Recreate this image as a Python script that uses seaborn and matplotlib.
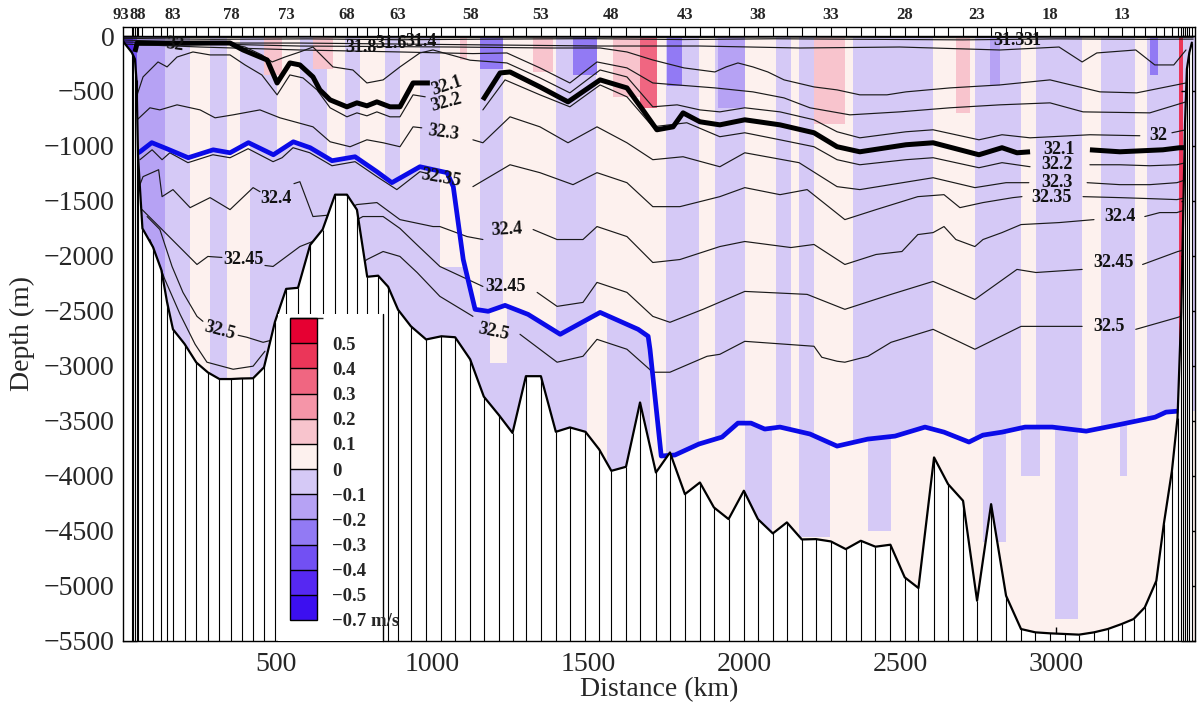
import numpy as np
import pandas as pd
import matplotlib
matplotlib.use("Agg")
import matplotlib.pyplot as plt
import seaborn as sns
from matplotlib.colors import ListedColormap, BoundaryNorm
from matplotlib.cm import ScalarMappable
from matplotlib.patches import Rectangle
from matplotlib.lines import Line2D

nan = np.nan

# ---------------- stations and bathymetry ----------------
station_id = list(range(93, 0, -1))
station_km = [0, 36, 41, 46, 51, 56, 70, 104, 131, 149, 168, 205, 243, 280, 317, 354, 389, 425, 460, 495,
              531, 569, 608, 648, 688, 726, 758, 791, 826, 858, 890, 931, 980, 1029, 1073, 1121, 1165, 1214,
              1257, 1300, 1348, 1396, 1441, 1491, 1535, 1574, 1621, 1666, 1717, 1762, 1810, 1858, 1903, 1950,
              1999, 2044, 2092, 2137, 2185, 2230, 2278, 2326, 2374, 2421, 2469, 2515, 2559, 2609, 2654, 2702,
              2747, 2792, 2840, 2888, 2934, 2981, 3029, 3074, 3122, 3166, 3211, 3249, 3285, 3322, 3346, 3372,
              3390, 3402, 3409, 3414, 3420, 3428, 3436]
bottom_depth = [-20, -150, -180, -210, -400, -1100, -1750, -1920, -2130, -2420, -2668, -2800, -2970, -3060,
                -3120, -3120, -3115, -3113, -3013, -2600, -2300, -2290, -1900, -1760, -1443, -1443, -1580, -2190,
                -2180, -2280, -2490, -2640, -2760, -2731, -2740, -2940, -3280, -3450, -3610, -3094, -3094, -3600,
                -3560, -3600, -3760, -3955, -3918, -3333, -3970, -3788, -4167, -4061, -4288, -4394, -4136, -4394,
                -4524, -4424, -4579, -4576, -4597, -4667, -4591, -4645, -4627, -4924, -5021, -3833, -4076, -4227,
                -5136, -4258, -5091, -5394, -5424, -5433, -5439, -5445, -5424, -5394, -5348, -5303, -5197, -4955,
                -4439, -3955, -3470, -2500, -1500, -800, -300, -150, -60]

# ---------------- blue line ----------------
blue_km = [56, 62, 100, 148, 217, 297, 351, 410, 490, 554, 608, 678, 752, 822, 870, 960, 1047, 1067, 1099, 1137,
           1179, 1233, 1307, 1410, 1538, 1660, 1692, 1698, 1734, 1778, 1855, 1929, 1980, 2022, 2066, 2115, 2211,
           2298, 2397, 2484, 2580, 2641, 2721, 2766, 2827, 2901, 2988, 3097, 3195, 3318, 3353, 3391]
blue_depth = [-1062, -1053, -970, -1025, -1107, -1035, -1062, -970, -1080, -962, -1016, -1134, -1098, -1234, -1334,
              -1189, -1243, -1370, -2033, -2486, -2504, -2450, -2532, -2713, -2514, -2668, -2731, -2850, -3820,
              -3811, -3711, -3648, -3521, -3521, -3575, -3557, -3620, -3730, -3666, -3639, -3557, -3603, -3693,
              -3630, -3603, -3557, -3557, -3594, -3539, -3467, -3421, -3412]

# ---------------- isolines (km, depth) ----------------
iso321_km = [46, 53, 94, 351, 393, 470, 502, 543, 575, 617, 639, 672, 726, 758, 790, 822, 864, 896, 938, 992, nan,
             1162, 1217, 1249, 1345, 1435, 1538, 1624, 1675, 1720, 1772, 1804, 1858, 1922, 2002, 2115, 2224, 2298,
             2371, 2519, 2606, 2753, 2827, 2875, 2917, nan, 3109, 3205, 3343, 3397, 3417]
iso321_d = [-145, -64, -64, -64, -127, -218, -427, -245, -263, -372, -490, -581, -644, -608, -635, -599, -644, -644,
            -427, -427, nan, -581, -336, -327, -463, -599, -399, -472, -672, -853, -826, -699, -780, -808, -762,
            -808, -880, -1007, -1053, -989, -971, -1080, -1016, -1062, -1053, nan, -1035, -1053, -1035, -1016, -1016]

iso322_km = [53, 72, 120, 149, 181, 232, 287, 351, 399, 453, 502, 543, 585, 630, 672, 726, 758, 790, 822, 864, 896,
             938, 977, nan, 1162, 1233, 1345, 1441, 1538, 1624, 1707, 1816, 1922, 2002, 2115, 2224, 2298, 2371,
             2519, 2606, 2753, 2827, 2917, nan, 3109, 3205, 3301, 3388, 3417]
iso322_d = [-535, -372, -236, -281, -191, -145, -172, -172, -263, -354, -535, -354, -381, -490, -653, -735, -699,
            -726, -690, -735, -735, -535, -553, nan, -672, -399, -535, -644, -445, -553, -826, -789, -916, -880,
            -944, -1007, -1125, -1171, -1125, -1107, -1198, -1152, -1189, nan, -1171, -1171, -1180, -1171, -1152]

iso323_km = [53, 94, 126, 181, 255, 303, 361, 447, 511, 617, 672, 736, 790, 842, 896, 938, 966, nan, 1130, 1162,
             1249, 1345, 1435, 1528, 1624, 1707, 1804, 1922, 2002, 2176, 2298, 2371, 2606, 2740, 2840, 2913, nan,
             3100, 3205, 3301, 3388, 3417]
iso323_d = [-762, -653, -672, -626, -672, -744, -717, -672, -744, -826, -962, -1007, -944, -971, -1007, -826, -835,
            nan, -944, -971, -735, -826, -971, -826, -971, -1125, -1098, -1189, -1062, -1152, -1370, -1397, -1289,
            -1379, -1334, -1334, nan, -1334, -1352, -1352, -1334, -1307]

iso3235_km = [62, 101, 133, 158, 216, 296, 351, 409, 489, 518, 553, 607, 678, 752, 822, 886, 960, 986, nan, 1130,
              1249, 1345, 1451, 1528, 1624, 1707, 1794, 1922, 2002, 2115, 2202, 2323, 2423, 2557, 2641, 2692, 2766,
              2862, 2891, nan, 3087, 3205, 3301, 3388, 3417]
iso3235_d = [-1125, -1035, -1125, -1062, -1152, -1080, -1107, -1025, -1143, -1107, -1016, -1062, -1180, -1143,
             -1279, -1397, -1234, -1252, nan, -1370, -1171, -1243, -1352, -1243, -1334, -1552, -1552, -1461, -1379,
             -1443, -1397, -1670, -1579, -1461, -1443, -1561, -1515, -1470, -1461, nan, -1461, -1470, -1479, -1488,
             -1470]

iso324_km = [62, 72, 122, 133, 168, 223, 287, 351, 425, 447, nan, 556, 575, 617, 688, 758, 822, 896, 1002, 1024,
             1111, 1162, nan, 1323, 1400, 1483, 1528, 1624, 1707, 1794, 1922, 2002, 2150, 2224, 2323, 2423, 2506,
             2557, 2606, 2641, 2679, 2740, 2766, 2827, 2888, 3010, 3122, nan, 3285, 3333, 3388, 3417]
iso324_d = [-1352, -1279, -1216, -1461, -1397, -1561, -1470, -1579, -1379, -1416, nan, -1343, -1325, -1642, -1624,
            -1533, -1515, -1670, -1733, -1733, -1824, -1851, nan, -1760, -1851, -1851, -1733, -1824, -2060, -2033,
            -1915, -1869, -1924, -1896, -2078, -1987, -1960, -1806, -1788, -1733, -1851, -1915, -1851, -1788,
            -1715, -1697, -1670, nan, -1642, -1606, -1606, -1579]

iso3245_km = [69, 133, 245, 280, 325, nan, 463, 489, 575, 672, 777, 842, 896, 951, 1024, 1162, nan, 1336, 1400,
              1483, 1528, 1624, 1707, 1762, 1868, 2002, 2202, 2323, 2471, 2606, 2740, 2875, 2936, 3084, nan, 3278,
              3391, 3417]
iso3245_d = [-1579, -1760, -2078, -2005, -2014, nan, -2087, -2096, -1915, -1806, -1642, -1642, -1750, -1900, -2096,
             -2278, nan, -2332, -2459, -2423, -2241, -2332, -2550, -2604, -2486, -2323, -2350, -2486, -2350, -2232,
             -2396, -2123, -2151, -2123, nan, -2078, -1960, -1942]

iso325_km = [85, 126, 165, 200, 245, 264, nan, 377, 405, 457, 495, 639, 790, 842, 896, 951, 1024, 1130, nan, 1281,
             1400, 1483, 1528, 1624, 1707, 1762, 1881, 1922, 2002, 2224, 2249, 2298, 2323, 2397, 2471, 2606, 2740,
             2888, 3084, nan, 3256, 3391, 3417]
iso325_d = [-1642, -1760, -2096, -2332, -2550, -2595, nan, -2722, -2740, -2786, -2759, -2396, -2033, -1960, -2005,
            -2151, -2368, -2550, nan, -2713, -2967, -2913, -2759, -2849, -3058, -3058, -2913, -2895, -2777, -2822,
            -2922, -2958, -2967, -2913, -2786, -2668, -2849, -2641, -2641, nan, -2668, -2559, -2532]

iso3255_km = [94, 142, 191, 239, 277, 361, 425, 463]
iso3255_d = [-1851, -2214, -2532, -2804, -2967, -3031, -3003, -2867]

iso32_km = [53, 200, 351, 399, 453, 486, 527, 575, 617, 681, 745, 790, 842, 896, 960, 1002, 1121, 1239, 1345, 1441,
            1538, 1624, 1707, 1785, 1858, 1922, 2002, 2115, 2224, 2298, 2371, 2519, 2606, 2753, 2827, 2917, 3109,
            3269, nan, 3372, 3417]
iso32_d = [-82, -82, -73, -100, -172, -236, -191, -145, -100, -281, -309, -427, -399, -281, -154, -127, -220, -245,
           -381, -517, -309, -372, -644, -626, -672, -690, -653, -690, -762, -871, -926, -871, -853, -944, -898,
           -926, -898, -907, nan, -880, -853]

isoU2_km = [8, 255, 575, 896, 1130, 1239, 1345, 1441, 1528, 1624, 1707, 1785, 1906, 2028, 2128, 2211, 2339, 2499,
            2660, 2820, 2981, 3087, 3301, 3417]
isoU2_d = [-73, -100, -127, -145, -160, -154, -290, -427, -236, -290, -427, -445, -472, -508, -563, -653, -717,
           -690, -653, -626, -608, -690, -699, -599]

isoU1_km = [8, 575, 1063, 1377, 1538, 1624, 1707, 1807, 1906, 1942, 1980, 2028, 2076, 2128, 2224, 2298, 2371, 2458,
            2519, 2660, 2820, 2981, 3141, 3259, 3417]
isoU1_d = [-54, -91, -100, -109, -109, -145, -218, -290, -327, -281, -245, -281, -327, -399, -463, -490, -535, -535,
           -508, -472, -445, -399, -508, -517, -427]

isoU0_km = [8, 255, 575, 896, 1217, 1538, 1858, 2179, 2499, 2820, 2948, 3010, 3084, 3131, 3256, 3317, 3378, 3417]
isoU0_d = [-36, -64, -64, -73, -82, -91, -91, -109, -100, -127, -109, -100, -236, -154, -127, -263, -263, -127]

surf_km = [8, 300, 600, 900, 1200, 1500, 1800, 2100, 2400, 2700, 3000, 3300, 3440]
surf1_d = [-10, -14, -9, -16, -12, -10, -14, -9, -12, -15, -10, -13, -12]
surf2_d = [-22, -30, -26, -34, -28, -24, -32, -25, -30, -35, -26, -30, -28]

# contour label annotations: text, km, depth, rotation
clab_text = ["32", "31.8", "31.6", "31.4", "31.3", "31", "32.1", "32.2", "32.3", "32.35", "32.4", "32.45",
             "32.5", "32.4", "32.45", "32.5", "32.1", "32.2", "32.3", "32.35", "32.4", "32.45", "32.5", "32"]
clab_km = [174, 771, 866, 962, 2850, 2925, 1045, 1045, 1034, 1029, 498, 393, 319, 1240, 1233, 1195, 3010, 3003,
           3003, 2985, 3205, 3183, 3170, 3327]
clab_d = [-82, -100, -64, -54, -45, -45, -455, -610, -880, -1290, -1480, -2030, -2680, -1760, -2278, -2695,
          -1035, -1170, -1334, -1470, -1643, -2060, -2641, -907]
clab_rot = [-8, 0, 0, 0, 0, 0, 18, 15, -8, -10, 0, 0, -15, 3, 0, -12, 0, 0, 0, 0, 0, 0, 0, 0]

# ---------------- velocity field (m/s classes) ----------------
mid_edges = [7.7, 53, 143, 223, 287, 342, 383, 502, 575, 662, 720, 768, 848, 896, 960, 1024, 1153, 1226, 1397, 1525,
             1750, 1855, 1906, 2002, 2102, 2150, 2176, 2224, 2349, 2606, 2740, 2888, 2936, 3084, 3144, 3256, 3292,
             3397, 3410, 3446]
mid_vals = [-0.25, -0.15, -0.05, 0.05, -0.05, 0.05, -0.05, 0.05, -0.05, 0.05, -0.05, 0.05, -0.05, 0.05, -0.05, 0.05,
            -0.05, 0.05, -0.05, 0.05, -0.05, 0.05, -0.05, 0.05, -0.05, 0.05, -0.05, 0.05, -0.05, 0.05, -0.05, 0.05,
            -0.05, 0.05, -0.05, 0.05, -0.05, 0.35, -0.05]

deep_edges = [7.7, 53, 143, 223, 287, 342, 415, 1024, 1130, 1185, 1240, 1496, 1560, 1700, 2002, 2090, 2176, 2275,
              2397, 2471, 2766, 2840, 2888, 2950, 2997, 3071, 3205, 3230, 3446]
deep_top_val = [-0.25, -0.15, -0.05, 0.05, -0.05, 0.05, -0.05, 0.05, -0.05, 0.05, -0.05, 0.05, -0.05, 0.05, -0.05,
                0.05, -0.05, 0.05, -0.05, 0.05, -0.05, 0.05, -0.05, 0.05, -0.05, 0.05, -0.05, 0.05]
deep_until = [-5500, -5500, -5500, -5500, -5500, -5500, -5500, -2100, -5500, -2970, -5500, -5500, -5500, -5500,
              -4550, -5500, -4550, -5500, -4500, -5500, -4600, -5500, -4000, -5500, -5300, -5500, -4000, -5500]
deep_low_val = [-0.25, -0.15, -0.05, 0.05, -0.05, 0.05, -0.05, -0.05, -0.05, -0.05, -0.05, 0.05, -0.05, 0.05, 0.05,
                0.05, 0.05, 0.05, 0.05, 0.05, 0.05, 0.05, 0.05, 0.05, 0.05, 0.05, 0.05, 0.05]

surf_km0 = [7.7, 40, 460, 618, 1088, 1153, 1323, 1451, 1579, 1666, 1752, 1916, 2224, 2680, 2788, 3302, 3397]
surf_km1 = [40, 53, 517, 682, 1111, 1226, 1387, 1528, 1666, 1720, 1800, 2003, 2323, 2724, 2820, 3327, 3410]
surf_val = [-0.45, -0.35, 0.15, 0.15, 0.15, -0.25, 0.15, -0.25, 0.15, 0.35, -0.25, -0.15, 0.15, 0.15, -0.15,
            -0.25, 0.45]
surf_depth = [-250, -1500, -350, -300, -220, -300, -330, -350, -550, -650, -450, -650, -800, -700, -450, -350,
              -3000]

levels = [-0.7, -0.5, -0.4, -0.3, -0.2, -0.1, 0.0, 0.1, 0.2, 0.3, 0.4, 0.5, 0.6]
level_colors = ["#3c0ff0", "#5628f2", "#7250f3", "#927af4", "#b6a2f4", "#d5c9f6",
                "#fdf1ee", "#f8c4cd", "#f595a8", "#f06681", "#eb3659", "#e60032"]
cbar_labels = ["\u22120.7 m/s", "\u22120.5", "\u22120.4", "\u22120.3", "\u22120.2", "\u22120.1", "0",
               "0.1", "0.2", "0.3", "0.4", "0.5"]

# ---------------- figure ----------------
sns.set_theme(style="ticks")
plt.rcParams["font.family"] = ["Liberation Serif", "DejaVu Serif"]
plt.rcParams["axes.unicode_minus"] = True

W, H = 1200, 705
fig = plt.figure(figsize=(12, 7.05), dpi=100)
L, R, T, B = 123, 1195, 27, 640.7
ax = fig.add_axes([L / W, 1 - B / H, (R - L) / W, (B - T) / H])
XMIN, XMAX, YMIN, YMAX = 7.7, 3446, -5500, 82

cmap = ListedColormap(level_colors)
norm = BoundaryNorm(levels, cmap.N)

xs = np.arange(XMIN, XMAX, 1.0) + 0.5
zs = np.arange(YMIN, 0, 5.0) + 2.5
X, Z = np.meshgrid(xs, zs)
mi = np.clip(np.searchsorted(mid_edges, xs, side="right") - 1, 0, len(mid_vals) - 1)
di = np.clip(np.searchsorted(deep_edges, xs, side="right") - 1, 0, len(deep_top_val) - 1)
mid = np.array(mid_vals)[mi][None, :]
dtop = np.array(deep_top_val)[di][None, :]
dlow = np.array(deep_low_val)[di][None, :]
dun = np.array(deep_until, dtype=float)[di][None, :]
bz = np.interp(xs, blue_km, blue_depth)[None, :]
V = np.where(Z > bz, mid, np.where(Z > dun, dtop, dlow))
for k0, k1, v, d in zip(surf_km0, surf_km1, surf_val, surf_depth):
    V[(X >= k0) & (X < k1) & (Z > d)] = v
ax.imshow(V, extent=[XMIN, XMAX, YMIN, 0], origin="lower", aspect="auto", cmap=cmap, norm=norm,
          interpolation="nearest", zorder=0)

# isolines
thin = dict(color="#1a1a1a", lw=0.85, zorder=2)
for kx, dy in [(surf_km, surf1_d), (surf_km, surf2_d), (isoU0_km, isoU0_d), (isoU1_km, isoU1_d),
               (isoU2_km, isoU2_d), (iso32_km, iso32_d), (iso322_km, iso322_d), (iso323_km, iso323_d),
               (iso3235_km, iso3235_d), (iso324_km, iso324_d), (iso3245_km, iso3245_d), (iso325_km, iso325_d),
               (iso3255_km, iso3255_d)]:
    ax.plot(kx, dy, **thin)
ax.plot(iso321_km, iso321_d, color="black", lw=3.6, solid_capstyle="butt", zorder=3)

sns.lineplot(x=blue_km, y=blue_depth, sort=False, estimator=None, color="#0b0be8", lw=3.4, ax=ax, zorder=3)

# bathymetry
ax.fill_between(station_km, bottom_depth, YMIN, color="white", lw=0, zorder=4)
ax.vlines(station_km, YMIN, bottom_depth, color="black", lw=0.8, zorder=5)
sns.lineplot(x=station_km, y=bottom_depth, sort=False, estimator=None, color="black", lw=1.6, ax=ax, zorder=6)

# top station band
ax.vlines(station_km, 0, YMAX, color="black", lw=0.8, zorder=5)
ax.axhline(0, color="black", lw=1.0, zorder=5)

for t, k, d, r in zip(clab_text, clab_km, clab_d, clab_rot):
    ax.text(k, d, t, fontsize=13, fontweight="bold", rotation=r, ha="center", va="center", zorder=7,
            color="#111111")

for sid, k in zip(station_id, station_km):
    if sid % 5 == 3 and sid >= 13:
        ax.annotate(str(sid), xy=(k, 1.0), xycoords=("data", "axes fraction"), xytext=(0, 3),
                    textcoords="offset points", ha="center", va="bottom", fontsize=12, fontweight="bold",
                    annotation_clip=False)

ax.set_xlim(XMIN, XMAX)
ax.set_ylim(YMIN, YMAX)
ax.set_xticks([500, 1000, 1500, 2000, 2500, 3000])
ax.set_yticks(np.arange(-5500, 1, 500))
ax.tick_params(axis="both", direction="in", labelsize=20, length=10, width=1, color="black")
ax.tick_params(axis="y", right=True, pad=6)
ax.tick_params(axis="x", top=False, pad=8)
for s in ax.spines.values():
    s.set_linewidth(1.0)
    s.set_color("black")
    s.set_zorder(8)
ax.set_xlabel("Distance (km)", fontsize=20, labelpad=0)
ax.set_ylabel("Depth (m)", fontsize=20, labelpad=6)

# legend box with colorbar
rect = Rectangle((278 / W, 1 - B / H), (383 - 278) / W, (B - 314) / H, transform=fig.transFigure,
                 facecolor="white", edgecolor="none", zorder=1.5)
fig.add_artist(rect)
fig.add_artist(Line2D([383 / W, 383 / W], [1 - B / H, 1 - 314 / H], transform=fig.transFigure,
                      color="black", lw=1.0, zorder=1.6))
cax = fig.add_axes([290 / W, 1 - 620 / H, 27 / W, 302 / H])
cax.set_zorder(2)
cb = fig.colorbar(ScalarMappable(norm=norm, cmap=cmap), cax=cax, boundaries=levels, ticks=levels[:-1],
                  spacing="uniform", drawedges=True)
cb.outline.set_linewidth(1.0)
cb.outline.set_edgecolor("black")
cb.dividers.set_color("black")
cb.dividers.set_linewidth(1.0)
cax.set_yticklabels(cbar_labels)
cax.tick_params(length=0, pad=11, labelsize=13.5)
for tl in cax.get_yticklabels():
    tl.set_fontweight("bold")

fig.savefig("out.png", dpi=100)
